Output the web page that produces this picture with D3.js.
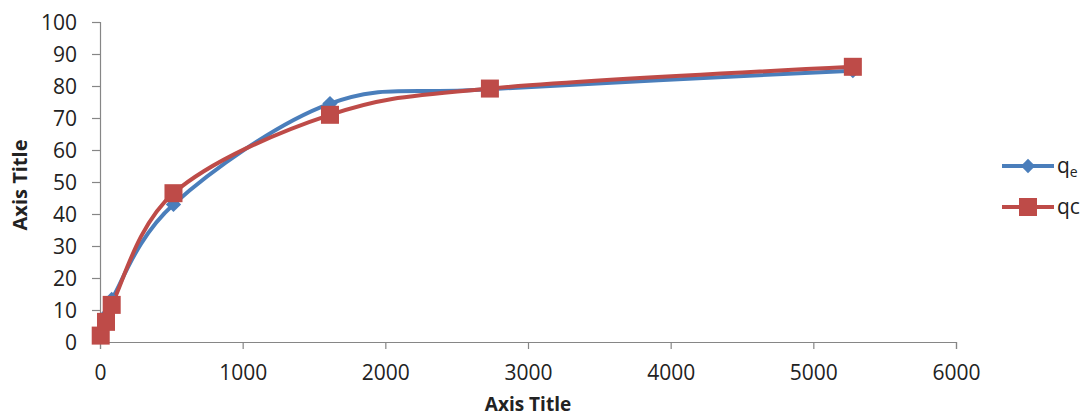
<!DOCTYPE html>
<html><head><meta charset="utf-8">
<script src="https://cdn.jsdelivr.net/npm/d3@7"></script>
<style>body{margin:0;background:#fff}svg{display:block}</style>
</head><body>
<script>
const xValues = [5, 42, 82, 515, 1612, 2733, 5277];
const qeValues = [2.5, 8.2, 13.3, 43, 74.5, 79, 84.8];
const qcValues = [2, 6.3, 11.6, 46.5, 71, 79.2, 86];
const xTicks = [0, 1000, 2000, 3000, 4000, 5000, 6000];
const yTicks = [0, 10, 20, 30, 40, 50, 60, 70, 80, 90, 100];
const seriesNames = ["qe", "qc"];
const axisTitleX = "Axis Title", axisTitleY = "Axis Title";

const W = 1083, H = 418;
const svg = d3.select("body").append("svg").attr("width", W).attr("height", H);
const x = d3.scaleLinear().domain([0, 6000]).range([100, 956]);
const y = d3.scaleLinear().domain([0, 100]).range([342, 22]);
const font = "'Open Sans', 'Liberation Sans', sans-serif";
const axisColor = "#868686";

const xAxis = svg.append("g").attr("transform", "translate(0,342)")
  .call(d3.axisBottom(x).tickValues(xTicks).tickSize(7).tickPadding(16).tickFormat(d3.format("d")));
const yAxis = svg.append("g").attr("transform", "translate(100,0)")
  .call(d3.axisLeft(y).tickValues(yTicks).tickSize(8).tickPadding(15));
[xAxis, yAxis].forEach(a => {
  a.select(".domain").attr("stroke", axisColor).attr("stroke-width", 1.2);
  a.selectAll(".tick line").attr("stroke", axisColor).attr("stroke-width", 1.2);
  a.selectAll(".tick text").attr("font-family", font).attr("font-size", 21).attr("fill", "#222");
});
yAxis.selectAll(".tick text").attr("dy", "0.36em");

svg.append("text").attr("x", 528).attr("y", 411).attr("text-anchor", "middle")
  .attr("font-family", font).attr("font-weight", "bold").attr("font-size", 19).attr("fill", "#222").text(axisTitleX);
svg.append("text").attr("transform", "translate(27,185) rotate(-90)").attr("text-anchor", "middle")
  .attr("font-family", font).attr("font-weight", "bold").attr("font-size", 20).attr("fill", "#222").text(axisTitleY);

const colors = ["#4A7EBB", "#BE4B48"];
const series = [qeValues, qcValues];
const line = d3.line().x((d, i) => x(xValues[i])).y(d => y(d)).curve(d3.curveCardinal.tension(0));

series.forEach((vals, si) => {
  svg.append("path").datum(vals).attr("d", line).attr("fill", "none")
    .attr("stroke", colors[si]).attr("stroke-width", 4).attr("stroke-linejoin", "round");
});
// markers
svg.append("g").selectAll("path").data(qeValues).join("path")
  .attr("d", d3.symbol().type(d3.symbolDiamond2).size(150))
  .attr("transform", (d, i) => `translate(${x(xValues[i])},${y(d)})`)
  .attr("fill", colors[0]);
svg.append("g").selectAll("rect").data(qcValues).join("rect")
  .attr("x", (d, i) => x(xValues[i]) - 9).attr("y", d => y(d) - 9)
  .attr("width", 18).attr("height", 18).attr("fill", colors[1]);

// legend
const lg = svg.append("g");
lg.append("line").attr("x1", 1002).attr("x2", 1054).attr("y1", 166).attr("y2", 166).attr("stroke", colors[0]).attr("stroke-width", 4);
lg.append("path").attr("d", d3.symbol().type(d3.symbolDiamond2).size(130)).attr("transform", "translate(1028,166)").attr("fill", colors[0]);
lg.append("line").attr("x1", 1002).attr("x2", 1054).attr("y1", 207).attr("y2", 207).attr("stroke", colors[1]).attr("stroke-width", 4);
lg.append("rect").attr("x", 1019).attr("y", 198).attr("width", 18).attr("height", 18).attr("fill", colors[1]);
const t1 = lg.append("text").attr("x", 1057).attr("y", 173).attr("font-family", font).attr("font-size", 21).attr("fill", "#222");
t1.append("tspan").text(seriesNames[0].charAt(0));
t1.append("tspan").attr("dy", 4).attr("font-size", 14).text(seriesNames[0].slice(1));
lg.append("text").attr("x", 1057).attr("y", 214).attr("font-family", font).attr("font-size", 21).attr("fill", "#222").text(seriesNames[1]);
</script>
</body></html>
